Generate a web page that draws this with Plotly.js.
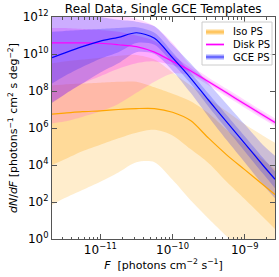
<!DOCTYPE html>
<html><head><meta charset="utf-8">
<script src="https://cdn.plot.ly/plotly-3.0.1.min.js"></script>
<style>html,body{margin:0;padding:0;background:#fff}</style>
</head><body>
<div id="chart" style="width:279px;height:277px"></div>
<script>
// log10 of F (photons cm^-2 s^-1)
const logF = [-11.67, -11.5, -11.25, -11, -10.75, -10.5, -10.25, -10, -9.75, -9.5, -9.25, -9, -8.75, -8.58];

// log10 of dN/dF — Iso PS
const isoMed  = [6.75, 6.8, 6.88, 6.93, 7.0, 7.05, 7.05, 6.85, 6.4, 5.45, 4.55, 3.75, 2.95, 2.4];
const iso68lo = [4.0, 4.3, 4.75, 5.1, 5.45, 5.75, 5.9, 5.6, 4.86, 4.1, 3.1, 2.16, 1.2, 0.54];
const iso68hi = [8.3, 8.35, 8.4, 8.45, 8.5, 8.5, 8.2, 7.85, 7.45, 6.8, 5.9, 5.1, 4.3, 3.8];
const iso95lo = [1.84, 2.2, 2.65, 3.1, 3.6, 4.15, 4.15, 3.2, 2.1, 1.1, 0.15, -0.8, -1.8, -2.4];
const iso95hi = [9.5, 9.6, 9.7, 9.8, 9.9, 9.95, 9.7, 9.0, 8.3, 7.6, 6.9, 6.2, 5.6, 5.2];

// Disk PS
const diskMed  = [10.6, 10.6, 10.6, 10.58, 10.5, 10.4, 10.1, 9.6, 9.1, 8.5, 7.9, 7.3, 6.7, 6.3];
const disk68lo = [7.4, 7.8, 8.4, 8.8, 9.2, 9.5, 9.6, 9.4, 8.98, 8.4, 7.8, 7.2, 6.6, 6.2];
const disk68hi = [11.4, 11.4, 11.35, 11.3, 11.2, 11.0, 10.7, 9.95, 9.25, 8.6, 8.0, 7.4, 6.8, 6.4];
const disk95lo = [6.25, 6.35, 6.6, 6.9, 7.3, 7.9, 8.5, 8.95, 8.85, 8.3, 7.7, 7.1, 6.5, 6.1];
const disk95hi = [12.5, 12.5, 12.4, 12.3, 12.1, 11.9, 11.5, 10.6, 9.4, 8.72, 8.12, 7.52, 6.92, 6.52];

// GCE PS
const gceMed  = [9.8, 10.05, 10.4, 10.7, 10.9, 11.15, 10.85, 9.8, 8.7, 7.5, 6.33, 5.17, 4.0, 3.23];
const gce68lo = [8.4, 8.8, 9.3, 9.75, 10.1, 10.6, 10.5, 9.5, 8.4, 7.15, 5.95, 4.75, 3.55, 2.75];
const gce68hi = [11.2, 11.25, 11.3, 11.35, 11.4, 11.45, 11.15, 10.1, 9.0, 7.85, 6.7, 5.55, 4.4, 3.65];
const gce95lo = [7.35, 7.8, 8.4, 9.0, 9.5, 10.1, 10.0, 9.1, 7.9, 6.6, 5.35, 4.15, 2.95, 2.2];
const gce95hi = [12.4, 12.3, 12.15, 12.0, 11.85, 11.75, 11.5, 10.5, 9.5, 8.4, 7.3, 6.2, 5.1, 4.5];

const names = ["Iso PS", "Disk PS", "GCE PS"];
const yTickExp = [0, 2, 4, 6, 8, 10, 12];
const xTickExp = [-11, -10, -9];

const p10 = a => a.map(v => Math.pow(10, v));
const X = p10(logF);
const sm = 0.8;

function band(lo, hi, fill) {
  return [
    {x: X, y: p10(lo), type: 'scatter', mode: 'lines', line: {width: 0, shape: 'spline', smoothing: sm},
     showlegend: false, hoverinfo: 'skip'},
    {x: X, y: p10(hi), type: 'scatter', mode: 'lines', fill: 'tonexty', fillcolor: fill,
     line: {width: 0, shape: 'spline', smoothing: sm}, showlegend: false, hoverinfo: 'skip'}
  ];
}
function line(med, color, w) {
  return {x: X, y: p10(med), type: 'scatter', mode: 'lines',
          line: {color: color, width: w, shape: 'spline', smoothing: sm}, showlegend: false};
}

const traces = [].concat(
  band(iso95lo, iso95hi, 'rgba(255,165,0,0.2)'),
  band(iso68lo, iso68hi, 'rgba(255,165,0,0.25)'),
  band(disk95lo, disk95hi, 'rgba(255,0,255,0.15)'),
  band(disk68lo, disk68hi, 'rgba(255,0,255,0.2)'),
  band(gce95lo, gce95hi, 'rgba(0,0,255,0.2)'),
  band(gce68lo, gce68hi, 'rgba(0,0,255,0.2)'),
  [line(isoMed, '#FFA500', 1.2), line(diskMed, '#FF00FF', 1.2), line(gceMed, '#0000FF', 1.2)]
);

const fontFam = 'DejaVu Sans, sans-serif';

// custom compact legend (paper coords)
const px2x = p => (p - 52) / 223;
const px2y = p => (239 - p) / 222;
const legY = [32, 44.5, 57];
const legStyles = [
  [{c: 'rgba(255,165,0,0.45)', w: 5}, {c: 'rgba(255,165,0,0.5)', w: 1.2}],
  [{c: 'rgba(255,0,255,0.25)', w: 3}, {c: '#FF00FF', w: 1.3}],
  [{c: 'rgba(0,0,255,0.35)', w: 5}, {c: 'rgba(0,0,255,0.6)', w: 1.2}]
];
const shapes = [{type: 'rect', xref: 'paper', yref: 'paper', x0: px2x(202), x1: px2x(272),
                 y0: px2y(65), y1: px2y(22), line: {color: '#ccc', width: 1},
                 fillcolor: 'rgba(255,255,255,0.85)', layer: 'above'}];
const annotations = [];
names.forEach((n, i) => {
  legStyles[i].forEach(s => shapes.push({type: 'line', xref: 'paper', yref: 'paper',
    x0: px2x(206), x1: px2x(224), y0: px2y(legY[i]), y1: px2y(legY[i]),
    line: {color: s.c, width: s.w}, layer: 'above'}));
  annotations.push({xref: 'paper', yref: 'paper', x: px2x(231), y: px2y(legY[i]),
    xanchor: 'left', yanchor: 'middle', text: n, showarrow: false,
    font: {family: fontFam, size: 10, color: '#000'}});
});

const layout = {
  width: 279, height: 277,
  margin: {l: 52, r: 4, t: 17, b: 38},
  paper_bgcolor: '#fff', plot_bgcolor: '#fff',
  font: {family: fontFam, size: 11, color: '#000'},
  title: {text: 'Real Data, Single GCE Templates', font: {family: fontFam, size: 12, color: '#000'},
          x: 0.585, xanchor: 'center', y: 0.985, yanchor: 'top'},
  showlegend: false,
  shapes: shapes, annotations: annotations,
  xaxis: {type: 'log', range: [-11.67, -8.58],
          tickvals: p10(xTickExp), ticktext: xTickExp.map(e => '10<sup>−' + Math.abs(e) + '</sup>'),
          showgrid: false, zeroline: false, showline: true, linecolor: '#555', linewidth: 1,
          mirror: 'ticks', ticks: 'inside', ticklen: 5, tickcolor: '#555',
          minor: {ticks: 'inside', ticklen: 2.5, tickcolor: '#555', dtick: 'D1', showgrid: false},
          tickfont: {family: fontFam, size: 12},
          title: {text: '<i>F</i>  [photons cm<sup>−2</sup> s<sup>−1</sup>]',
                  font: {family: fontFam, size: 11}, standoff: 4}},
  yaxis: {type: 'log', range: [0, 12],
          tickvals: p10(yTickExp), ticktext: yTickExp.map(e => '10<sup>' + e + '</sup>'),
          showgrid: false, zeroline: false, showline: true, linecolor: '#555', linewidth: 1,
          mirror: 'ticks', ticks: 'inside', ticklen: 5, tickcolor: '#555',
          tickfont: {family: fontFam, size: 12},
          title: {text: '<i>dN</i>/<i>dF</i> [photons<sup>−1</sup> cm<sup>2</sup> s deg<sup>−2</sup>]',
                  font: {family: fontFam, size: 11}, standoff: 2}}
};

Plotly.newPlot('chart', traces, layout, {displayModeBar: false, staticPlot: true});
</script>
</body></html>
